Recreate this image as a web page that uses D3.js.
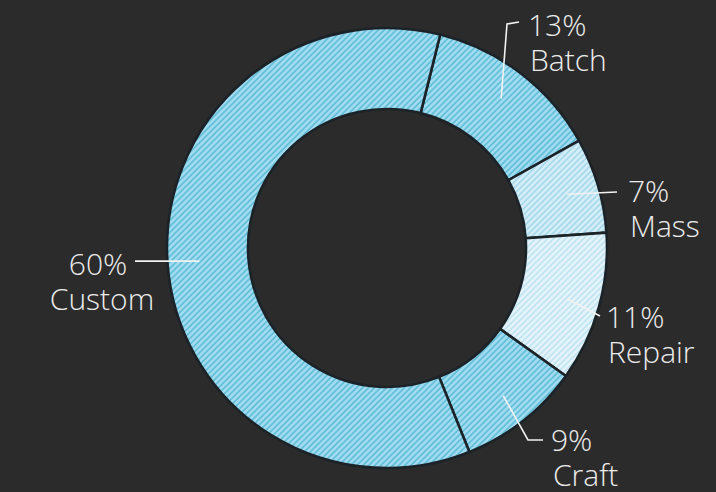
<!DOCTYPE html>
<html>
<head>
<meta charset="utf-8">
<script src="https://cdn.jsdelivr.net/npm/d3@7"></script>
<style>
  html, body { margin: 0; padding: 0; background: #2b2b2b; }
  svg { display: block; }
  .label { fill: #ececec; font-family: "Open Sans", sans-serif; font-weight: 300; font-size: 30px; }
  .leader { stroke: #f2f2f2; stroke-width: 1.6; fill: none; }
</style>
</head>
<body>
<svg id="chart" width="716" height="492"></svg>
<script>
// slice data, clockwise from the Custom/Batch divider
const categories = ['Batch', 'Mass', 'Repair', 'Craft', 'Custom'];
const shares = [13, 7, 11, 9, 60];
const shareLabels = ['13%', '7%', '11%', '9%', '60%'];

const width = 716,
  height = 492,
  cx = 387,
  cy = 248,
  outerR = 220,
  innerR = 139;

const svg = d3.select('#chart');

// hatch fills per slice: base, stripe
const fills = {
  Batch: ['#a0ddf1', '#66bdd8'],
  Mass: ['#d4eef7', '#a9d9ea'],
  Repair: ['#e4f4fa', '#c1e4f0'],
  Craft: ['#a0ddf1', '#66bdd8'],
  Custom: ['#a0ddf1', '#66bdd8']
};

// 45 degree stripes, 6px horizontal repeat so they sit on the pixel grid
const pw = 6 / Math.SQRT2;
const defs = svg.append('defs');
categories.forEach(c => {
  const [base, stripe] = fills[c];
  const p = defs.append('pattern')
    .attr('id', 'hatch-' + c)
    .attr('patternUnits', 'userSpaceOnUse')
    .attr('width', pw)
    .attr('height', pw)
    .attr('patternTransform', 'rotate(45)');
  p.append('rect').attr('width', pw).attr('height', pw).attr('fill', base);
  p.append('rect').attr('width', pw * 0.42).attr('height', pw).attr('fill', stripe);
});

const pie = d3.pie()
  .sort(null)
  .startAngle(14 * Math.PI / 180)
  .endAngle(14 * Math.PI / 180 + 2 * Math.PI);

const arcs = pie(shares);

const arc = d3.arc().innerRadius(innerR).outerRadius(outerR);
const leaderArc = d3.arc().innerRadius(188).outerRadius(188);

const g = svg.append('g').attr('transform', `translate(${cx}, ${cy})`);

g.selectAll('path.slice')
    .data(arcs)
  .join('path')
    .attr('class', 'slice')
    .attr('d', arc)
    .attr('fill', (d, i) => `url(#hatch-${categories[i]})`)
    .attr('stroke', '#1c2328')
    .attr('stroke-width', 2.6);

// label layout: leader bends and text spots, relative to the centre
const layout = {
  Batch: {pts: [[120, -224], [132, -226]], x: 141, y: -212, anchor: 'start'},
  Mass: {pts: [[230, -56]], x: 241, y: -46, anchor: 'start'},
  Repair: {pts: [[213, 68]], x: 219, y: 80, anchor: 'start'},
  Craft: {pts: [[141, 192], [156, 192]], x: 164, y: 203, anchor: 'start'},
  Custom: {pts: [[-252, 14]], x: -289, y: 27, anchor: 'middle'}
};

const line = d3.line();

arcs.forEach((d, i) => {
  const c = categories[i];
  const l = layout[c];
  const start = leaderArc.centroid(d);
  if (c === 'Custom') l.pts[0][1] = start[1];
  g.append('path')
    .attr('class', 'leader')
    .attr('d', line([start].concat(l.pts)));
  const t = g.append('text')
    .attr('class', 'label')
    .attr('text-anchor', l.anchor);
  t.append('tspan').attr('x', l.x).attr('y', l.y).text(shareLabels[i]);
  t.append('tspan').attr('x', l.x + (l.anchor === 'start' ? 2 : 4)).attr('y', l.y + 35).text(c);
});
</script>
</body>
</html>
